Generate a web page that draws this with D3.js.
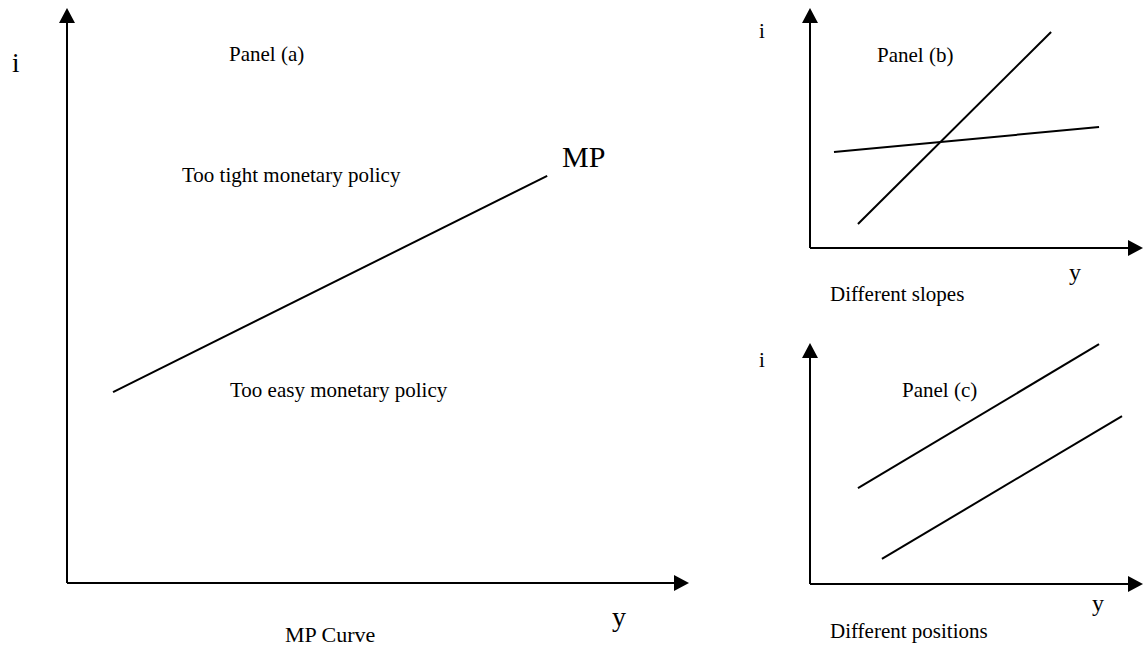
<!DOCTYPE html>
<html>
  <head>
    <meta charset="utf-8">
    <title>MP Curve</title>
    <script src="https://d3js.org/d3.v7.min.js"></script>
    <style>
      body { margin: 0; background: #fff; }
      svg text { font-family: "Liberation Serif", "Times New Roman", serif; fill: #000; }
      .axis, .curve { stroke: #000; fill: none; }
    </style>
  </head>
  <body>
    <svg width="1144" height="652"></svg>
    <script>
      // each line: [y0, i0, y1, i1] in axis units (axes run 0..10)
      var panelA = [[0.74, 3.32, 7.72, 7.08]];
      var panelB = [[1.44, 1.0, 7.24, 9.0], [0.72, 4.0, 8.68, 5.04]];
      var panelC = [[1.44, 3.98, 8.68, 9.95], [2.16, 1.04, 9.37, 6.97]];

      var svg = d3.select("svg");

      function panel(cfg) {
        var x = d3.scaleLinear().domain([0, 10]).range([cfg.left, cfg.right]);
        var y = d3.scaleLinear().domain([0, 10]).range([cfg.bottom, cfg.top]);
        var g = svg.append("g");
        var ah = cfg.arrow;

        g.append("line").attr("class", "axis").attr("stroke-width", 2)
            .attr("x1", x(0)).attr("y1", y(0)).attr("x2", x(0)).attr("y2", y(10) + ah.len - 1);
        g.append("line").attr("class", "axis").attr("stroke-width", 2)
            .attr("x1", x(0)).attr("y1", y(0)).attr("x2", x(10) - ah.len + 1).attr("y2", y(0));
        g.append("path")
            .attr("d", "M" + x(0) + "," + y(10) + "l" + ah.w + "," + ah.len + "h" + (-2 * ah.w) + "z");
        g.append("path")
            .attr("d", "M" + x(10) + "," + y(0) + "l" + (-ah.len) + "," + (-ah.w) + "v" + (2 * ah.w) + "z");

        g.selectAll(".curve").data(cfg.lines).enter().append("line")
            .attr("class", "curve").attr("stroke-width", 2)
            .attr("x1", function(d) { return x(d[0]); })
            .attr("y1", function(d) { return y(d[1]); })
            .attr("x2", function(d) { return x(d[2]); })
            .attr("y2", function(d) { return y(d[3]); });

        cfg.labels.forEach(function(l) {
          g.append("text").attr("x", l[0]).attr("y", l[1])
              .style("font-size", l[3] + "px").text(l[2]);
        });
      }

      panel({
        left: 67, right: 689, top: 8, bottom: 583,
        arrow: {len: 15, w: 8},
        lines: panelA,
        labels: [
          [12, 72, "i", 27],
          [229, 61, "Panel (a)", 21],
          [182, 182, "Too tight monetary policy", 21],
          [562, 167, "MP", 30],
          [230, 397, "Too easy monetary policy", 21],
          [612, 626, "y", 28],
          [285, 642, "MP Curve", 22]
        ]
      });

      panel({
        left: 810, right: 1143, top: 8, bottom: 248,
        arrow: {len: 15, w: 8},
        lines: panelB,
        labels: [
          [759, 38, "i", 21],
          [877, 62, "Panel (b)", 21],
          [1069, 280, "y", 24],
          [830, 301, "Different slopes", 21]
        ]
      });

      panel({
        left: 810, right: 1143, top: 343, bottom: 584,
        arrow: {len: 15, w: 8},
        lines: panelC,
        labels: [
          [759, 367, "i", 21],
          [902, 397, "Panel (c)", 21],
          [1092, 611, "y", 24],
          [830, 638, "Different positions", 21]
        ]
      });
    </script>
  </body>
</html>
